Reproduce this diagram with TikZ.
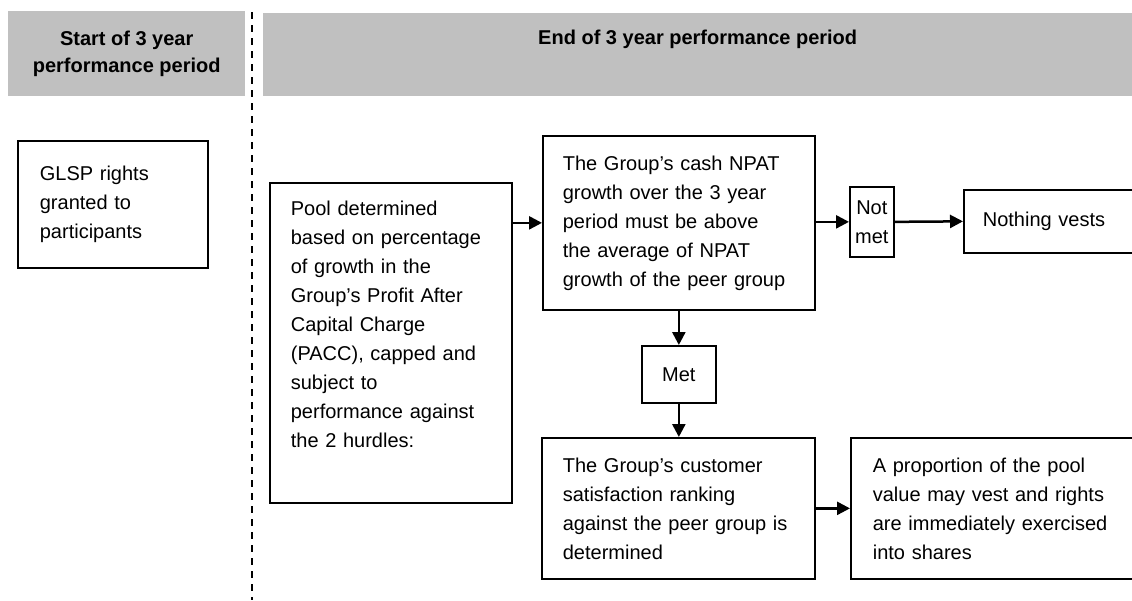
\documentclass[tikz,border=0pt]{standalone}
\usepackage{fontspec}
\setmainfont{Liberation Sans}
\usetikzlibrary{arrows.meta}
\definecolor{hdrgray}{HTML}{C0C0C0}
\tikzset{
	hdrcell/.style={fill=hdrgray, anchor=north west, inner sep=0pt, align=center, font=\bfseries\fontsize{20}{27}\selectfont},
	flowbox/.style={draw, line width=1.7pt, anchor=north west, inner ysep=0pt, align=left, font=\fontsize{20}{29}\selectfont},
	flowarrow/.style={line width=2.5pt, -{Triangle[length=13pt,width=13pt]}}
}

\begin{document}
\begin{tikzpicture}[x=1pt, y=-1pt]
		%%%%% START %%%%%
		\useasboundingbox (0, 0) rectangle (1132, 600);
		\clip (0, 0) rectangle (1132, 600);
		
		\node[hdrcell, minimum width=237pt, minimum height=85pt] (hstart) at (8, 11) {Start of 3 year\\performance period};
		\node[hdrcell, minimum width=869pt, minimum height=83pt] (hend) at (263, 13) {End of 3 year performance period\\\strut};
		
		\draw[line width=2.2pt, dash pattern=on 7pt off 6pt] (252, 12) -- (252, 600);
		
		\node[flowbox, inner xsep=22pt, text width=146pt, minimum height=127pt] (glsp) at (17, 140) {GLSP rights\\granted to\\participants};
		
		\node[flowbox, inner xsep=21pt, text width=200pt, minimum height=320pt] (pool) at (269, 182) {Pool determined\\based on percentage\\of growth in the\\Group's Profit After\\Capital Charge\\(PACC), capped and\\subject to\\performance against\\the 2 hurdles:\\\strut};
		
		\node[flowbox, inner xsep=20pt, text width=232pt, minimum height=174pt] (npat) at (542, 135) {The Group's cash NPAT\\growth over the 3 year\\period must be above\\the average of NPAT\\growth of the peer group};
		\node[flowbox, inner xsep=0pt, align=center, text width=44pt, minimum height=70pt] (notmet) at (849, 186) {Not\\met};
		\node[flowbox, inner xsep=19pt, text width=160pt, minimum height=63pt] (nothing) at (963, 189) {Nothing vests};
		
		\node[flowbox, inner xsep=0pt, align=center, text width=74pt, minimum height=57pt] (met) at (641, 345) {Met};
		
		\node[flowbox, inner xsep=21pt, text width=231pt, minimum height=141pt] (cust) at (541, 437) {The Group's customer\\satisfaction ranking\\against the peer group is\\determined};
		\node[flowbox, inner xsep=22pt, text width=260pt, minimum height=141pt] (prop) at (850, 437) {A proportion of the pool\\value may vest and rights\\are immediately exercised\\into shares};
		
		\draw[flowarrow] (pool.east |- npat.west) -- (npat.west);
		\draw[flowarrow] (npat.east |- notmet.west) -- (notmet.west);
		\draw[flowarrow] (notmet.east) -- (nothing.west);
		\draw[flowarrow] (npat.south -| met.north) -- (met.north);
		\draw[flowarrow] (met.south) -- (met.south |- cust.north);
		\draw[flowarrow] (cust.east) -- (prop.west);
		%%%%% END %%%%%
\end{tikzpicture}
\end{document}
